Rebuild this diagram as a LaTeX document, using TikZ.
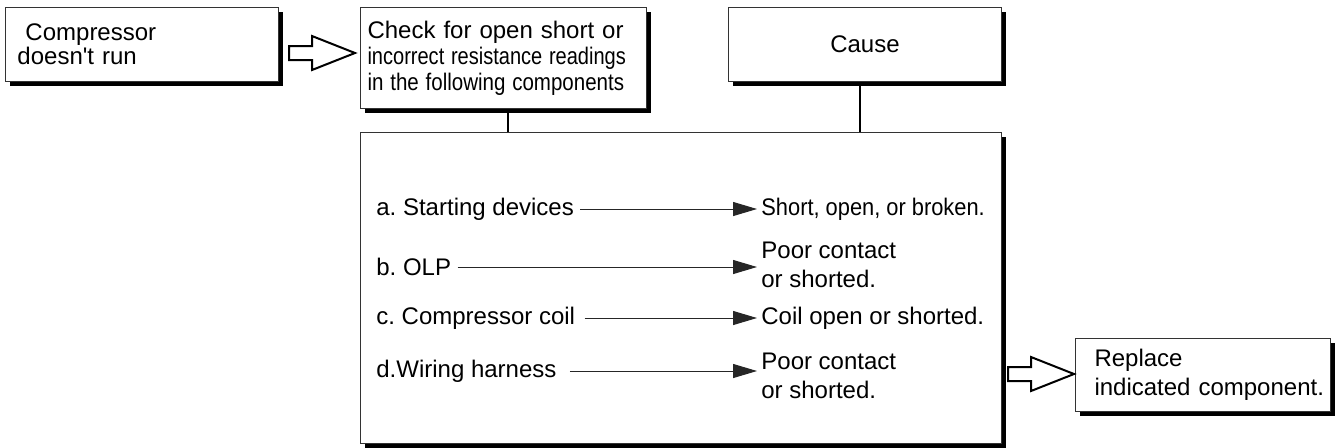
\documentclass[tikz,border=0pt]{standalone}
\usepackage{graphicx}
\usepackage{fontspec}
\setmainfont{Liberation Sans}
\usetikzlibrary{positioning, arrows.meta, shadows}

\tikzset{
    box/.style={draw=black!80, line width=0.5pt, fill=white, anchor=north west,
        inner sep=0pt,
        drop shadow={shadow xshift=2.25pt, shadow yshift=-2.25pt, fill=black, opacity=1}},
    itemtext/.style={anchor=west, inner sep=0pt, align=left,
        font=\fontsize{12}{14.5}\selectfont},
    cause arrow/.style={draw=black!85, line width=0.5pt,
        -{Triangle[length=12pt, width=7pt]}},
    link/.style={line width=1pt},
    hollow/.style={draw=black, line width=1pt, fill=white, line join=miter}
}

% Outlined push arrow, starting at the tail end
\newcommand{\hollowarrow}[1]{%
    \draw[hollow] (#1) ++(0,-7) -- ++(23,0) -- ++(0,-10) -- ++(43,17)
        -- ++(-43,17) -- ++(0,-10) -- ++(-23,0) -- cycle;}
% Narrowed line of text
\newcommand{\narrow}[2]{\scalebox{#1}[1]{#2}}

\begin{document}
\frenchspacing
\begin{tikzpicture}[x=0.5pt, y=-0.5pt]
    \useasboundingbox (0,0) rectangle (1341,447);

    % Top row of boxes
    \node[box, minimum width=136.5pt, minimum height=37pt, text width=124.5pt,
        inner xsep=6pt, align=left, font=\fontsize{12}{10.7}\selectfont]
        (start) at (5,7) {\ Compressor\\doesn\textquotesingle t run};
    \node[box, minimum width=143pt, minimum height=50.5pt, text width=136pt,
        inner xsep=3.5pt, align=left, font=\fontsize{12}{13}\selectfont]
        (check) at (360,7) {Check for open short or\\
        \narrow{0.835}{incorrect resistance readings}\\
        \narrow{0.855}{in the following components}};
    \node[box, minimum width=136.5pt, minimum height=37pt,
        font=\fontsize{12}{14.5}\selectfont] (cause) at (728,7) {Cause};

    % Main box and result box
    \node[box, minimum width=320.5pt, minimum height=155.5pt] (main) at (360,132) {};
    \node[box, minimum width=127.5pt, minimum height=36.5pt, text width=108.5pt,
        inner xsep=9.5pt, align=left, font=\fontsize{12}{14.5}\selectfont]
        (replace) at (1075,338) {Replace\\\mbox{indicated component.}};

    % Components
    \node[itemtext] (devices) at (376,209) {a. Starting devices};
    \node[itemtext] (olp) at (376,267) {b. OLP};
    \node[itemtext] (coil) at (376,318) {c. Compressor coil};
    \node[itemtext] (harness) at (376,371) {d.Wiring harness};

    % Causes
    \node[itemtext] (broken) at (761,209) {\narrow{0.91}{Short, open, or broken.}};
    \node[itemtext] (contactB) at (761,265) {Poor contact\\or shorted.};
    \node[itemtext] (coilopen) at (761,318) {Coil open or shorted.};
    \node[itemtext] (contactD) at (761,376) {Poor contact\\or shorted.};

    % Component to cause
    \draw[cause arrow, shorten <=3pt, shorten >=2pt] (devices.east) -- (devices.east -| broken.west);
    \draw[cause arrow, shorten <=3pt, shorten >=2pt] (olp.east) -- (olp.east -| contactB.west);
    \draw[cause arrow, shorten <=4.5pt, shorten >=2pt] (coil.east) -- (coil.east -| coilopen.west);
    \draw[cause arrow, shorten <=6.5pt, shorten >=2pt] (harness.east) -- (harness.east -| contactD.west);

    % Boxes down to the main box
    \draw[link] ([xshift=2pt]check.south) -- ([xshift=2pt]check.south |- main.north);
    \draw[link] ([xshift=-2.75pt]cause.south) -- ([xshift=-2.75pt]cause.south |- main.north);

    % Push arrows
    \coordinate (pushA) at (289,53);
    \coordinate (pushB) at (1008,374);
    \hollowarrow{pushA}
    \hollowarrow{pushB}
\end{tikzpicture}
\end{document}
